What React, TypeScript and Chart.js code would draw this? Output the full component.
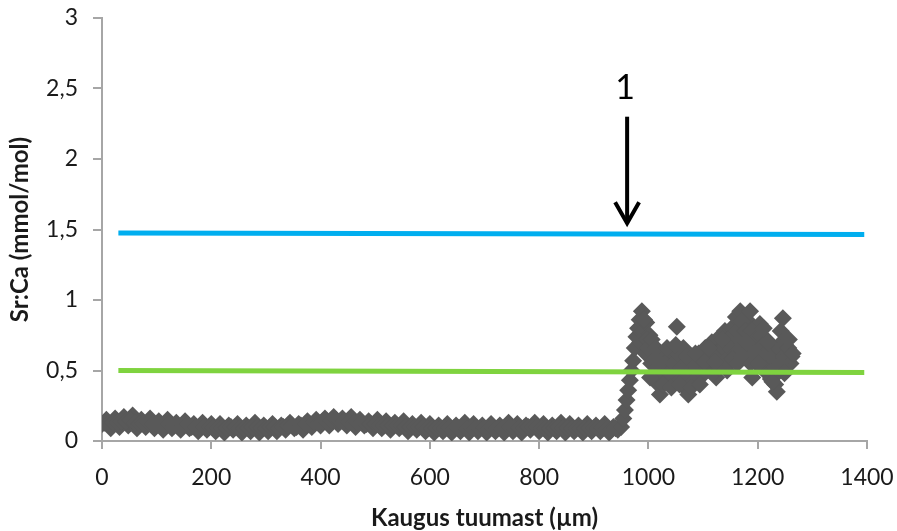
import React, { useEffect, useRef } from "react";
import { Chart, registerables } from "chart.js";

Chart.register(...registerables);

// Low, flat part of the profile (distance from core, µm)
const lowX = [
  0, 8, 16, 24, 32, 40, 48, 56, 64, 72, 80, 88, 96,
  104, 112, 120, 128, 136, 144, 152, 160, 168, 176, 184, 192, 200,
  208, 216, 224, 232, 240, 248, 256, 264, 272, 280, 288, 296, 304,
  312, 320, 328, 336, 344, 352, 360, 368, 376, 384, 392, 400,
  408, 416, 424, 432, 440, 448, 456, 464, 472, 480, 488, 496, 504,
  512, 520, 528, 536, 544, 552, 560, 568, 576, 584, 592, 600,
  608, 616, 624, 632, 640, 648, 656, 664, 672, 680, 688, 696, 704,
  712, 720, 728, 736, 744, 752, 760, 768, 776, 784, 792, 800,
  808, 816, 824, 832, 840, 848, 856, 864, 872, 880, 888, 896, 904,
  912, 920, 928, 936, 944,
];
const lowY = [
  0.12, 0.15, 0.09, 0.16, 0.1, 0.17, 0.11, 0.18, 0.09, 0.15, 0.1, 0.16, 0.09,
  0.14, 0.08, 0.15, 0.09, 0.13, 0.08, 0.14, 0.09, 0.12, 0.07, 0.13, 0.08, 0.12,
  0.07, 0.12, 0.06, 0.11, 0.08, 0.12, 0.06, 0.11, 0.07, 0.13, 0.06, 0.11, 0.07,
  0.12, 0.07, 0.11, 0.08, 0.13, 0.09, 0.12, 0.08, 0.14, 0.1, 0.15, 0.11,
  0.16, 0.11, 0.17, 0.12, 0.16, 0.11, 0.17, 0.1, 0.15, 0.11, 0.14, 0.09, 0.15,
  0.09, 0.14, 0.08, 0.13, 0.09, 0.14, 0.07, 0.12, 0.08, 0.13, 0.07, 0.12,
  0.06, 0.11, 0.07, 0.12, 0.06, 0.11, 0.07, 0.13, 0.06, 0.12, 0.07, 0.11, 0.06,
  0.12, 0.07, 0.11, 0.06, 0.13, 0.07, 0.12, 0.06, 0.11, 0.08, 0.13, 0.07,
  0.12, 0.06, 0.11, 0.07, 0.13, 0.06, 0.12, 0.07, 0.11, 0.06, 0.12, 0.07, 0.11,
  0.07, 0.12, 0.06, 0.1, 0.08,
];
// Interleaved measurements in the flat part
const lowMidX = [
  4, 12, 20, 28, 36, 44, 52, 60, 68, 76, 84, 92, 100,
  108, 116, 124, 132, 140, 148, 156, 164, 172, 180, 188, 196, 204,
  212, 220, 228, 236, 244, 252, 260, 268, 276, 284, 292, 300, 308,
  316, 324, 332, 340, 348, 356, 364, 372, 380, 388, 396, 404,
  412, 420, 428, 436, 444, 452, 460, 468, 476, 484, 492, 500, 508,
  516, 524, 532, 540, 548, 556, 564, 572, 580, 588, 596, 604,
  612, 620, 628, 636, 644, 652, 660, 668, 676, 684, 692, 700, 708,
  716, 724, 732, 740, 748, 756, 764, 772, 780, 788, 796, 804,
  812, 820, 828, 836, 844, 852, 860, 868, 876, 884, 892, 900, 908,
  916, 924, 932, 940,
];
const lowMidY = [
  0.13, 0.12, 0.13, 0.13, 0.14, 0.14, 0.15, 0.13, 0.12, 0.13, 0.13, 0.12, 0.12,
  0.11, 0.12, 0.12, 0.11, 0.1, 0.11, 0.12, 0.1, 0.1, 0.1, 0.1, 0.1, 0.09,
  0.09, 0.09, 0.09, 0.1, 0.1, 0.09, 0.09, 0.09, 0.1, 0.1, 0.09, 0.09, 0.1,
  0.1, 0.09, 0.1, 0.11, 0.11, 0.1, 0.11, 0.12, 0.12, 0.13, 0.13, 0.14,
  0.14, 0.14, 0.15, 0.14, 0.14, 0.14, 0.13, 0.13, 0.13, 0.12, 0.12, 0.12, 0.11,
  0.11, 0.11, 0.11, 0.11, 0.11, 0.1, 0.1, 0.1, 0.1, 0.1, 0.09, 0.09,
  0.09, 0.09, 0.09, 0.09, 0.09, 0.09, 0.1, 0.09, 0.09, 0.09, 0.09, 0.09, 0.09,
  0.09, 0.09, 0.09, 0.1, 0.1, 0.09, 0.09, 0.09, 0.1, 0.1, 0.1, 0.09,
  0.09, 0.09, 0.09, 0.1, 0.09, 0.09, 0.09, 0.09, 0.09, 0.09, 0.09, 0.09, 0.09,
  0.09, 0.09, 0.08, 0.09,
];

// Rise and elevated part of the profile
const highX = [
  950, 954, 957, 960, 963, 966, 969, 972, 975, 978, 981, 984, 988, 990, 993,
  996, 999, 1002, 1005, 1008, 1012, 1015, 1018, 1021, 1025, 1028, 1032, 1036,
  1040, 1044, 1048, 1052, 1055, 1058, 1062, 1066, 1070, 1073, 1076, 1080, 1084,
  1088, 1092, 1096, 1100, 1104, 1108, 1112, 1116, 1120, 1124, 1128, 1132, 1136,
  1140, 1144, 1148, 1152, 1156, 1160, 1164, 1168, 1172, 1176, 1180, 1184, 1186,
  1190, 1194, 1198, 1202, 1204, 1208, 1212, 1216, 1220, 1224, 1228, 1232, 1235,
  1238, 1242, 1246, 1250, 1254, 1258, 1262,
];
const highY = [
  0.1, 0.16, 0.22, 0.29, 0.36, 0.43, 0.5, 0.57, 0.66, 0.74, 0.8, 0.86, 0.92, 0.78, 0.7,
  0.84, 0.62, 0.75, 0.55, 0.68, 0.48, 0.6, 0.4, 0.33, 0.52, 0.62, 0.45, 0.58,
  0.5, 0.6, 0.42, 0.81, 0.55, 0.47, 0.58, 0.38, 0.52, 0.33, 0.45, 0.6, 0.5,
  0.43, 0.62, 0.55, 0.47, 0.66, 0.58, 0.5, 0.7, 0.62, 0.45, 0.73, 0.65, 0.55,
  0.78, 0.68, 0.6, 0.8, 0.72, 0.88, 0.66, 0.92, 0.75, 0.62, 0.86, 0.7, 0.92,
  0.45, 0.8, 0.55, 0.7, 0.83, 0.62, 0.5, 0.72, 0.58, 0.44, 0.66, 0.4, 0.35,
  0.55, 0.78, 0.87, 0.68, 0.58, 0.64, 0.6,
];
// Additional measurements interleaved in the elevated part
const fillX = [
  985, 992, 995, 998, 1000, 1006, 1010, 1016, 1024, 1030, 1038, 1046, 1054,
  1060, 1068, 1074, 1082, 1090, 1098, 1106, 1114, 1118, 1126, 1130, 1138, 1142,
  1146, 1150, 1158, 1162, 1166, 1170, 1174, 1178, 1182, 1188, 1192, 1196, 1200,
  1206, 1210, 1214, 1218, 1222, 1226, 1230, 1236, 1240, 1244, 1248, 1252, 1256,
  1260, 1264,
];
const fillY = [
  0.7, 0.86, 0.62, 0.72, 0.66, 0.72, 0.58, 0.52, 0.45, 0.55, 0.48, 0.55, 0.62,
  0.52, 0.45, 0.55, 0.42, 0.52, 0.6, 0.52, 0.6, 0.48, 0.62, 0.52, 0.66, 0.58,
  0.72, 0.65, 0.62, 0.78, 0.72, 0.85, 0.68, 0.78, 0.62, 0.78, 0.66, 0.72, 0.6,
  0.75, 0.68, 0.6, 0.52, 0.65, 0.5, 0.58, 0.48, 0.65, 0.7, 0.6, 0.72, 0.66,
  0.55, 0.62,
];
const fill2X = [
  1003, 1013, 1020, 1027, 1034, 1042, 1050, 1057, 1064, 1071, 1078, 1086, 1094,
  1102, 1110, 1122, 1134, 1144, 1154, 1163, 1171, 1179, 1187, 1195, 1203, 1211,
  1219, 1227, 1233, 1241, 1249, 1257,
];
const fill2Y = [
  0.45, 0.66, 0.56, 0.4, 0.66, 0.38, 0.68, 0.4, 0.66, 0.6, 0.38, 0.62, 0.4,
  0.56, 0.66, 0.56, 0.72, 0.5, 0.58, 0.55, 0.6, 0.7, 0.55, 0.62, 0.55, 0.8,
  0.7, 0.42, 0.52, 0.55, 0.48, 0.72,
];

// Reference lines
const blueLineX = [30, 1395];
const blueLineY = [1.475, 1.465];
const greenLineX = [30, 1395];
const greenLineY = [0.5, 0.485];

// Arrow annotation
const arrowLabel = "1";
const arrowX = 961;
const arrowTopY = 2.3;
const arrowTipY = 1.53;
const arrowLabelY = 2.5;

const xTitle = "Kaugus tuumast (µm)";
const yTitle = "Sr:Ca (mmol/mol)";

const FONT = "Lato, 'Open Sans', sans-serif";

const arrowPlugin = {
  id: "arrowAnnot",
  afterDatasetsDraw(chart: any) {
    const { ctx, scales } = chart;
    const x = scales.x.getPixelForValue(arrowX);
    const yTop = scales.y.getPixelForValue(arrowTopY);
    const yTip = scales.y.getPixelForValue(arrowTipY);
    const yLab = scales.y.getPixelForValue(arrowLabelY);
    ctx.save();
    ctx.strokeStyle = "#000";
    ctx.lineWidth = 4;
    ctx.lineCap = "butt";
    ctx.beginPath();
    ctx.moveTo(x, yTop);
    ctx.lineTo(x, yTip - 2);
    ctx.stroke();
    ctx.lineJoin = "miter";
    ctx.beginPath();
    ctx.moveTo(x - 12, yTip - 23);
    ctx.lineTo(x, yTip - 2);
    ctx.lineTo(x + 12, yTip - 23);
    ctx.stroke();
    ctx.fillStyle = "#000";
    ctx.font = `34px ${FONT}`;
    ctx.textAlign = "center";
    ctx.textBaseline = "middle";
    ctx.fillText(arrowLabel, x - 2, yLab);
    ctx.restore();
  },
};

const zeroPad = (s: any) => {
  s.paddingTop = 0;
  s.paddingBottom = 0;
  s.paddingLeft = 0;
  s.paddingRight = 0;
};

export default function App() {
  const ref = useRef<HTMLCanvasElement>(null);
  useEffect(() => {
    document.body.style.margin = "0";
    const pts = [
      ...lowX.map((x, i) => ({ x, y: lowY[i] })),
      ...lowMidX.map((x, i) => ({ x, y: lowMidY[i] })),
      ...highX.map((x, i) => ({ x, y: highY[i] })),
      ...fillX.map((x, i) => ({ x, y: fillY[i] })),
      ...fill2X.map((x, i) => ({ x, y: fill2Y[i] })),
    ];
    const chart = new Chart(ref.current!, {
      type: "scatter",
      data: {
        datasets: [
          {
            label: "green",
            data: greenLineX.map((x, i) => ({ x, y: greenLineY[i] })),
            showLine: true,
            borderColor: "#7fd33f",
            borderWidth: 5,
            pointRadius: 0,
            order: 0,
          },
          {
            label: "blue",
            data: blueLineX.map((x, i) => ({ x, y: blueLineY[i] })),
            showLine: true,
            borderColor: "#00aeef",
            borderWidth: 5,
            pointRadius: 0,
            order: 1,
          },
          {
            label: "Sr:Ca",
            data: pts,
            pointStyle: "rectRot",
            pointRadius: 9,
            pointBackgroundColor: "#595959",
            pointBorderColor: "#595959",
            pointBorderWidth: 0,
            order: 2,
          },
        ],
      },
      options: {
        animation: false,
        responsive: false,
        events: [],
        layout: { autoPadding: false, padding: { top: 18, right: 30, left: 0, bottom: 0 } },
        plugins: {
          legend: { display: false },
          tooltip: { enabled: false },
        },
        scales: {
          x: {
            type: "linear",
            min: 0,
            max: 1400,
            afterFit: (s: any) => {
              s.height = 90;
              zeroPad(s);
            },
            ticks: {
              stepSize: 200,
              color: "#1a1a1a",
              padding: 15,
              font: { family: FONT, size: 23 },
              maxRotation: 0,
              callback: (v: any) => String(v),
            },
            grid: {
              drawOnChartArea: false,
              drawTicks: true,
              tickLength: 8,
              color: "#a6a6a6",
              lineWidth: 2,
            },
            border: { display: true, color: "#a6a6a6", width: 2 },
            title: {
              display: true,
              text: xTitle,
              color: "#1a1a1a",
              font: { family: FONT, size: 24, weight: "bold" },
              padding: { top: 0, bottom: -2 },
            },
          },
          y: {
            min: 0,
            max: 3,
            afterFit: (s: any) => {
              s.width = 102;
              zeroPad(s);
            },
            ticks: {
              stepSize: 0.5,
              color: "#1a1a1a",
              padding: 15,
              font: { family: FONT, size: 23 },
              callback: (v: any) => String(v).replace(".", ","),
            },
            grid: {
              drawOnChartArea: false,
              drawTicks: true,
              tickLength: 9,
              color: "#a6a6a6",
              lineWidth: 2,
            },
            border: { display: true, color: "#a6a6a6", width: 2 },
            title: {
              display: true,
              text: yTitle,
              color: "#1a1a1a",
              font: { family: FONT, size: 24, weight: "bold" },
              padding: { top: 6, bottom: 0 },
            },
          },
        },
      },
      plugins: [arrowPlugin],
    });
    return () => chart.destroy();
  }, []);
  return (
    <div style={{ position: "fixed", left: 0, top: 0, width: 897, height: 531, background: "#fff" }}>
      <canvas ref={ref} width={897} height={531} style={{ width: 897, height: 531 }} />
    </div>
  );
}
